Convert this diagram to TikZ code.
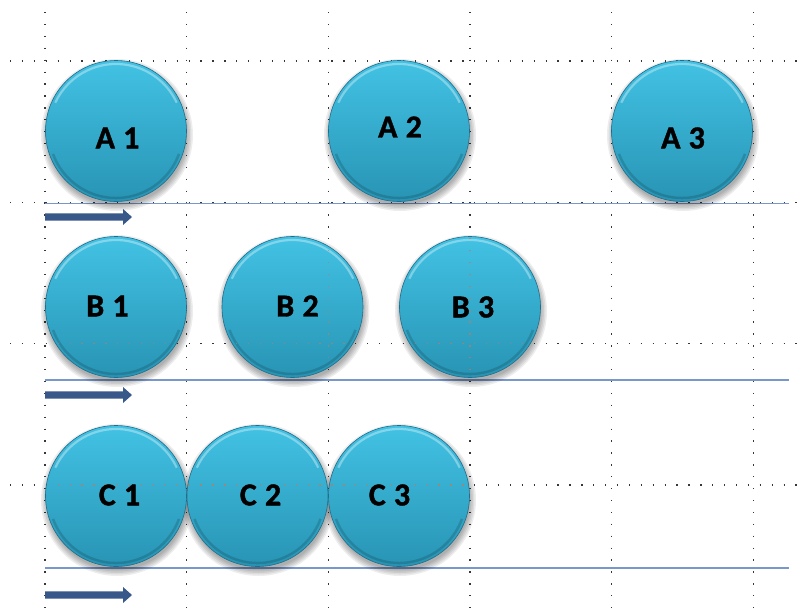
\documentclass[tikz,border=0pt]{standalone}
\usepackage{fontspec}
\setmainfont{Carlito}
\newfontfamily\ballfont{Carlito}[BoldFeatures={FakeBold=1.2}, LetterSpace=3]
\usetikzlibrary{calc}

\definecolor{ballTop}{RGB}{66,194,228}
\definecolor{ballBot}{RGB}{40,148,180}
\definecolor{ballEdge}{RGB}{32,110,140}
\definecolor{railBlue}{RGB}{120,152,204}
\definecolor{arrowBlue}{RGB}{56,88,138}
\definecolor{gridDot}{RGB}{55,55,55}
\definecolor{gridTint}{RGB}{196,120,92}

\tikzset{
  griddots/.style={gridDot, line width=1.3pt, dash pattern=on 1.3pt off 10.6pt},
  gridtint/.style={gridTint, line width=1.3pt, dash pattern=on 1.3pt off 10.6pt, opacity=0.7},
  rail/.style={railBlue, line width=1.6pt},
  softshadow/.style={black, opacity=0.07},
  ball/.style={circle, minimum size=141pt, inner sep=0pt,
    draw=ballEdge, line width=0.6pt,
    top color=ballTop, bottom color=ballBot,
    path picture={
      \draw[white, opacity=0.35, line width=2.2pt]
        ($(path picture bounding box.center)+(-25:67)$) arc[start angle=-25, end angle=-155, radius=67];
      \draw[black, opacity=0.15, line width=2.5pt]
        ($(path picture bounding box.center)+(20:67)$) arc[start angle=20, end angle=160, radius=67];
    }},
  balltext/.style={font=\ballfont\bfseries\fontsize{32}{32}\selectfont, inner sep=0pt, text=black},
  movearrow/.style={fill=arrowBlue}
}

\begin{document}
\begin{tikzpicture}[x=1pt, y=-1pt]
  \fill[white] (0,0) rectangle (803,613);
  \useasboundingbox (0,0) rectangle (803,613);

  % layout grid
  \foreach \x in {45,186.7,328.3,470,611.7,753.3}
    \draw[griddots] (\x,12) -- (\x,608);
  \foreach \y in {61,202.5,343.5,485}
    \draw[griddots] (10,\y) -- (800,\y);

  % baselines of the three rows
  \coordinate (railAl) at (45,203.5);  \coordinate (railAr) at (789,203.5);
  \coordinate (railBl) at (45,380);    \coordinate (railBr) at (789,380);
  \coordinate (railCl) at (45,568);    \coordinate (railCr) at (789,568);
  \draw[rail] (railAl) -- (railAr);
  \draw[rail] (railBl) -- (railBr);
  \draw[rail] (railCl) -- (railCr);

  % direction arrows
  \foreach \y in {217,395,595}
    \fill[movearrow] (45,\y-3.6) -- (123,\y-3.6) -- (123,\y-8) -- (132,\y)
      -- (123,\y+8) -- (123,\y+3.6) -- (45,\y+3.6) -- cycle;

  % soft shadows under the balls
  \foreach \cx/\cy in {116/131,399/131,682/131,116/307,292.5/307,470/307,116/496,257.5/496,399/496}
    \foreach \r in {70,71.5,73,74.5,76}
      \fill[softshadow] (\cx+1,\cy+4) circle[radius=\r];

  % balls
  \node[ball] (cA1) at (116,131) {};
  \node[ball] (cA2) at (399,131) {};
  \node[ball] (cA3) at (682,131) {};
  \node[ball] (cB1) at (116,307) {};
  \node[ball] (cB2) at (292.5,307) {};
  \node[ball] (cB3) at (470,307) {};
  \node[ball] (cC1) at (116,496) {};
  \node[ball] (cC2) at (257.5,496) {};
  \node[ball] (cC3) at (399,496) {};

  % grid seen through the balls
  \begin{scope}
    \clip (cB1.center) circle[radius=70] (cB2.center) circle[radius=70]
          (cB3.center) circle[radius=70] (cC1.center) circle[radius=70]
          (cC2.center) circle[radius=70] (cC3.center) circle[radius=70];
    \foreach \x in {45,186.7,328.3,470,611.7,753.3}
      \draw[gridtint] (\x,12) -- (\x,608);
    \foreach \y in {61,202.5,343.5,485}
      \draw[gridtint] (10,\y) -- (800,\y);
  \end{scope}

  % labels
  \node[balltext] (tA1) at (117.5,138) {A 1};
  \node[balltext] (tA2) at (400,127) {A 2};
  \node[balltext] (tA3) at (683,138) {A 3};
  \node[balltext] (tB1) at (107.5,306) {B 1};
  \node[balltext] (tB2) at (297.5,306) {B 2};
  \node[balltext] (tB3) at (473,307) {B 3};
  \node[balltext] (tC1) at (119.5,495) {C 1};
  \node[balltext] (tC2) at (260.5,495) {C 2};
  \node[balltext] (tC3) at (389.5,495) {C 3};
\end{tikzpicture}
\end{document}
